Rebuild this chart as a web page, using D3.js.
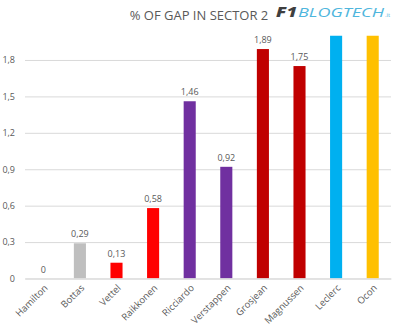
<!DOCTYPE html>
<html><head><meta charset="utf-8">
<script src="https://cdn.jsdelivr.net/npm/d3@7"></script>
<style>body{margin:0;background:#fff}svg{display:block}text{font-family:"Open Sans","Liberation Sans",sans-serif}</style>
</head><body><div id="c"></div>
<script>
const categories = ["Hamilton","Bottas","Vettel","Raikkonen","Ricciardo","Verstappen","Grosjean","Magnussen","Leclerc","Ocon"];
const values = [0, 0.29, 0.13, 0.58, 1.46, 0.92, 1.89, 1.75, 2.6, 2.6];
const labels = ["0","0,29","0,13","0,58","1,46","0,92","1,89","1,75","",""];
const colors = ["#bfbfbf","#bfbfbf","#ff0000","#ff0000","#7030a0","#7030a0","#c00000","#c00000","#00b0f0","#ffc000"];
const yTicks = [0,0.3,0.6,0.9,1.2,1.5,1.8];
const title = "% OF GAP IN SECTOR 2";

const W=400,H=332;
const svg=d3.select("#c").append("svg").attr("width",W).attr("height",H);
const x=d3.scaleBand().domain(categories).range([25,391]).paddingInner(0.67).paddingOuter(0.335);
const y=d3.scaleLinear().domain([0,2.0]).range([278.5,35.7]);
const fmt=d=>d3.format(".1f")(d).replace(".",",");

svg.append("defs").append("clipPath").attr("id","clip").append("rect").attr("x",0).attr("y",y(2.0)).attr("width",W).attr("height",y(0)-y(2.0));

// grid
const yAxis=d3.axisLeft(y).tickValues(yTicks).tickSize(-(391-25)).tickFormat(d=>d===0?"0":fmt(d));
const ga=svg.append("g").attr("transform","translate(25,0)").call(yAxis);
ga.select(".domain").remove();
ga.selectAll(".tick line").attr("stroke","#d9d9d9").attr("stroke-width",1);
ga.selectAll(".tick text").attr("x",-10).attr("fill","#595959").style("font-size","9px").attr("text-anchor","end");

// bars
svg.append("g").attr("clip-path","url(#clip)").selectAll("rect").data(categories).join("rect")
 .attr("x",d=>x(d)).attr("width",x.bandwidth())
 .attr("y",(d,i)=>y(values[i])).attr("height",(d,i)=>y(0)-y(values[i]))
 .attr("fill",(d,i)=>colors[i]);

// data labels
svg.append("g").selectAll("text").data(categories).join("text")
 .attr("x",d=>x(d)+x.bandwidth()/2).attr("y",(d,i)=>y(values[i])-6)
 .attr("text-anchor","middle").attr("fill","#595959").style("font-size","9px")
 .text((d,i)=>labels[i]);

// x axis
const xa=svg.append("g").attr("transform","translate(0,278.5)").call(d3.axisBottom(x).tickSize(0));
xa.select(".domain").attr("stroke","#d9d9d9");
xa.selectAll(".tick text").attr("fill","#595959").style("font-size","9.5px")
 .attr("text-anchor","end").attr("dy","0").attr("dx","0")
 .attr("transform","translate(5,10) rotate(-45)").attr("y",0).attr("x",0);

// title
svg.append("text").attr("x",199).attr("y",20).attr("text-anchor","middle").attr("fill","#595959")
 .style("font-size","13px").text(title);

// logo
const lg=svg.append("g");
lg.append("text").attr("x",276).attr("y",17).attr("fill","#3f3f3f").style("font-size","14px").style("font-weight","900").style("font-style","italic").attr("textLength",21).attr("lengthAdjust","spacingAndGlyphs").text("F1");
lg.append("text").attr("x",298).attr("y",17).attr("fill","#4fb6dd").style("font-size","12px").style("font-style","italic").attr("textLength",86).attr("lengthAdjust","spacingAndGlyphs").text("BLOGTECH");
lg.append("text").attr("x",385).attr("y",17).attr("fill","#4fb6dd").style("font-size","6px").text(".it");
</script></body></html>
